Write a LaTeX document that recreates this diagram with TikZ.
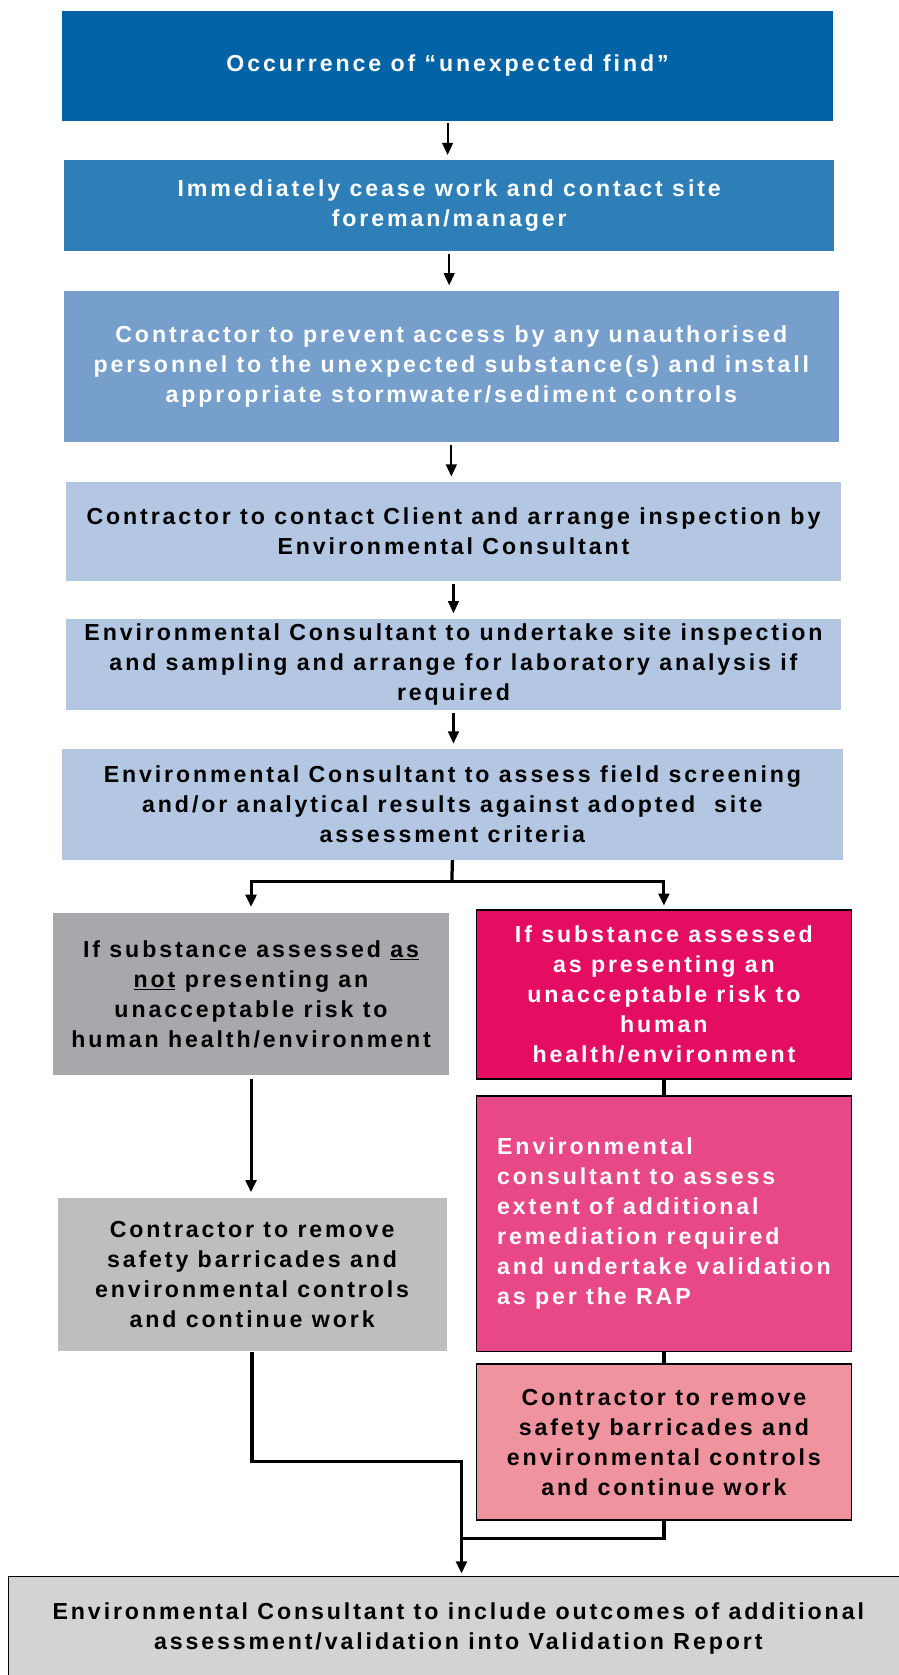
\documentclass[tikz,border=0pt]{standalone}
\usepackage{fontspec}
\setmainfont{Liberation Sans}[LetterSpace=12.5]
\usetikzlibrary{arrows.meta}
\definecolor{blueA}{HTML}{0063A6}
\definecolor{blueB}{HTML}{2E7EB8}
\definecolor{blueC}{HTML}{779FCB}
\definecolor{blueD}{HTML}{B3C7E3}
\definecolor{greyA}{HTML}{A7A8AB}
\definecolor{greyB}{HTML}{BDBEC0}
\definecolor{greyC}{HTML}{D2D3D5}
\definecolor{pinkA}{HTML}{E50D62}
\definecolor{pinkB}{HTML}{E94886}
\definecolor{pinkC}{HTML}{EF949E}
\begin{document}
\begin{tikzpicture}[x=1cm,y=-1cm,
    box/.style={rectangle,inner sep=0pt,align=center,
      font=\fontsize{18.5}{24}\selectfont\bfseries},
    edged/.style={draw=black,line width=1.2pt},
    arr/.style={line width=1.7pt,-{Triangle[length=0.34cm,width=0.3cm]}},
    link/.style={line width=2.6pt}]
  \useasboundingbox (0,0) rectangle (25.23,47.04);
  \draw
    (12.57,1.845) node[box,fill=blueA,text=white,minimum width=21.66cm,minimum height=3.09cm] (find)
      {Occurrence of “unexpected find”}
    (12.615,5.775) node[box,fill=blueB,text=white,minimum width=21.63cm,minimum height=2.55cm] (cease)
      {Immediately cease work and contact site\\foreman/manager}
    (12.675,10.29) node[box,fill=blueC,text=white,minimum width=21.75cm,minimum height=4.26cm] (secure)
      {Contractor to prevent access by any unauthorised\\personnel to the unexpected substance(s) and install\\appropriate stormwater/sediment controls}
    (12.735,14.925) node[box,fill=blueD,minimum width=21.75cm,minimum height=2.79cm] (contact)
      {Contractor to contact Client and arrange inspection by\\Environmental Consultant}
    (12.735,18.66) node[box,fill=blueD,minimum width=21.75cm,minimum height=2.58cm] (inspect)
      {Environmental Consultant to undertake site inspection\\and sampling and arrange for laboratory analysis if\\required}
    (12.705,22.59) node[box,fill=blueD,minimum width=21.93cm,minimum height=3.12cm] (assess)
      {Environmental Consultant to assess field screening\\and/or analytical results against adopted\ \ site\\assessment criteria}
    (7.05,27.915) node[box,fill=greyA,minimum width=11.1cm,minimum height=4.53cm] (safe)
      {If substance assessed \underline{as}\\\underline{not} presenting an\\unacceptable risk to\\human health/environment}
    (7.08,35.79) node[box,fill=greyB,minimum width=10.92cm,minimum height=4.32cm] (resume)
      {Contractor to remove\\safety barricades and\\environmental controls\\and continue work}
    (18.645,27.93) node[box,edged,fill=pinkA,text=white,minimum width=10.53cm,minimum height=4.74cm] (risk)
      {If substance assessed\\as presenting an\\unacceptable risk to\\human\\health/environment}
    (18.645,34.365) node[box,edged,fill=pinkB,text=white,align=left,minimum width=10.53cm,minimum height=7.17cm] (remediate)
      {Environmental\\consultant to assess\\extent of additional\\remediation required\\and undertake validation\\as per the RAP}
    (18.645,40.5) node[box,edged,fill=pinkC,minimum width=10.53cm,minimum height=4.38cm] (clear)
      {Contractor to remove\\safety barricades and\\environmental controls\\and continue work}
    (12.87,45.74) node[box,edged,fill=greyC,minimum width=25.26cm,minimum height=2.92cm] (report)
      {Environmental Consultant to include outcomes of additional\\assessment/validation into Validation Report};
  \coordinate (split) at (12.69,24.75);
  \coordinate (bend) at (12.96,41.04);
  \coordinate (merge) at (12.96,43.2);
  \begin{scope}[shorten <=2pt,shorten >=4pt]
    \draw[arr] (find.south) -- (find.south |- cease.north);
    \draw[arr] (cease.south) -- (cease.south |- secure.north);
    \draw[arr] (secure.south) -- (secure.south |- contact.north);
    \draw[arr] (contact.south) -- (contact.south |- inspect.north);
    \draw[arr] (inspect.south) -- (inspect.south |- assess.north);
  \end{scope}
  \draw[link] (assess.south) -- (split);
  \draw[arr,line width=2.4pt,shorten >=5pt] (split) -| (safe.north);
  \draw[arr,line width=2.4pt,shorten >=3pt] (split) -| (risk.north);
  \draw[arr,line width=2.4pt,shorten <=3pt,shorten >=4pt] (safe.south) -- (safe.south |- resume.north);
  \draw[link] (risk) -- (remediate);
  \draw[link] (remediate) -- (clear);
  \draw[link] (resume.south) |- (bend) -- (merge);
  \draw[link] (clear.south) |- (merge);
  \draw[arr,line width=2.4pt,shorten >=2pt] (merge) -- (merge |- report.north);
\end{tikzpicture}
\end{document}
